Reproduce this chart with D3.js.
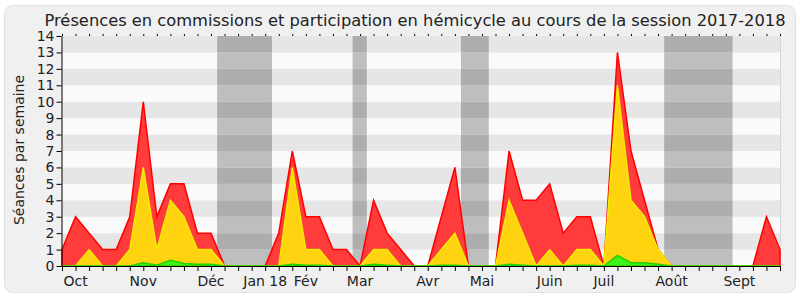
<!DOCTYPE html>
<html>
<head>
<meta charset="utf-8">
<script src="https://cdn.jsdelivr.net/npm/d3@7"></script>
<style>
  body { margin: 0; background: #fff; }
  text { font-family: "DejaVu Sans", sans-serif; fill: #222; }
</style>
</head>
<body>
<svg id="chart" width="800" height="300"></svg>
<script>
// weekly values, one per week of the session (index 0 .. 53)
var totalWeek  = [1,3,2,1,1,3,10,3,5,5,2,2,0,0,0,0,2,7,3,3,1,1,0,4,2,1,0,0,3,6,0,0,0,7,4,4,5,2,3,3,0,13,7,4,1,0,0,0,0,0,0,0,3,1];
var yellowWeek = [0,0,1,0,0,1,6,1,4,3,1,1,0,0,0,0,0,6,1,1,0,0,0,1,1,0,0,0,1,2,0,0,0,4,2,0,1,0,1,1,0,11,4,3,1,0,0,0,0,0,0,0,0,0];
var greenWeek  = [0,0,0,0,0,0,0.2,0.05,0.35,0.15,0.1,0.1,0,0,0,0,0,0.1,0.05,0.05,0,0,0,0.1,0.05,0,0,0,0.05,0.05,0,0,0,0.1,0.05,0,0,0,0.05,0.05,0,0.65,0.2,0.2,0.1,0,0,0,0,0,0,0,0,0];

// month labels and the week index they sit on
var monthLabels = ["Oct","Nov","Déc","Jan 18","Fév","Mar","Avr","Mai","Juin","Juil","Août","Sept"];
var monthWeeks  = [1,6,11,15,18,22,27,31,36,40,45,50];

// holiday periods (in week index units)
var vacStart = [11.45, 21.45, 29.45, 44.45];
var vacEnd   = [15.5, 22.5, 31.5, 49.5];

var yTicks = d3.range(0, 15);

var svg = d3.select('#chart');

// outer frame
svg.append('rect')
	.attr('x', 4.5).attr('y', 5.5)
	.attr('width', 791).attr('height', 287)
	.attr('rx', 8)
	.attr('fill', '#f0f0f0')
	.attr('stroke', '#e2e2e2');

var x = d3.scaleLinear().domain([0, totalWeek.length - 1]).range([62, 780]);
var y = d3.scaleLinear().domain([0, 14]).range([266, 36]);

// background stripes
var bands = d3.range(0, 14);
svg.append('g').selectAll('rect')
	.data(bands).enter().append('rect')
	.attr('x', x(0)).attr('width', x(totalWeek.length - 1) - x(0))
	.attr('y', function(k) { return y(k + 1); })
	.attr('height', function(k) { return y(k) - y(k + 1); })
	.attr('fill', function(k) { return k % 2 ? '#e6e6e6' : '#fafafa'; });

// holidays
vacStart.forEach(function(s, j) {
	svg.append('g').selectAll('rect')
		.data(bands).enter().append('rect')
		.attr('x', x(s)).attr('width', x(vacEnd[j]) - x(s))
		.attr('y', function(k) { return y(k + 1); })
		.attr('height', function(k) { return y(k) - y(k + 1); })
		.attr('fill', function(k) { return k % 2 ? '#adadad' : '#bebebe'; });
});

// right border of the plot
svg.append('line')
	.attr('x1', 780.5).attr('x2', 780.5)
	.attr('y1', y(14)).attr('y2', y(0))
	.attr('stroke', '#d6d6d6');

// stacked areas, drawn back to front
function drawArea(values, fill, stroke) {
	var area = d3.area()
		.x(function(d, i) { return x(i); })
		.y0(y(0))
		.y1(function(d) { return y(d); });
	svg.append('path')
		.datum(values)
		.attr('d', area)
		.attr('fill', fill)
		.attr('stroke', stroke)
		.attr('stroke-width', 1.5)
		.attr('stroke-linejoin', 'miter');
}
drawArea(totalWeek, '#ff3b3b', '#ff0000');
drawArea(yellowWeek, '#ffd30f', '#f2ec00');
drawArea(greenWeek, '#3ef21a', '#22d000');

// axes
var weeks = d3.range(0, totalWeek.length);

svg.append('g')
	.attr('transform', 'translate(0,' + y(0) + ')')
	.call(d3.axisBottom(x).tickValues(weeks).tickSize(5).tickFormat(''))
	.call(function(g) { g.select('.domain').attr('stroke', '#000'); });

svg.append('g')
	.attr('transform', 'translate(0,' + y(14) + ')')
	.call(d3.axisTop(x).tickValues(weeks).tickSize(2).tickFormat(''))
	.call(function(g) { g.select('.domain').remove(); });

var yAxis = svg.append('g')
	.attr('transform', 'translate(' + (x(0) - 0.5) + ',0)')
	.call(d3.axisLeft(y).tickValues(yTicks).tickSize(5).tickPadding(2).tickSizeOuter(0));
yAxis.selectAll('text').style('font-size', '14px').style('font-family', '"DejaVu Sans", sans-serif').attr('fill', '#222');

// month labels
svg.append('g').selectAll('text')
	.data(monthLabels).enter().append('text')
	.attr('x', function(d, i) { return x(monthWeeks[i]); })
	.attr('y', 286)
	.attr('text-anchor', 'middle')
	.style('font-size', '14px')
	.text(function(d) { return d; });

// titles
svg.append('text')
	.attr('x', 415).attr('y', 26)
	.attr('text-anchor', 'middle')
	.style('font-size', '16.3px')
	.text('Présences en commissions et participation en hémicycle au cours de la session 2017-2018');

svg.append('text')
	.attr('transform', 'translate(24,150) rotate(-90)')
	.attr('text-anchor', 'middle')
	.style('font-size', '14px')
	.text('Séances par semaine');
</script>
</body>
</html>
